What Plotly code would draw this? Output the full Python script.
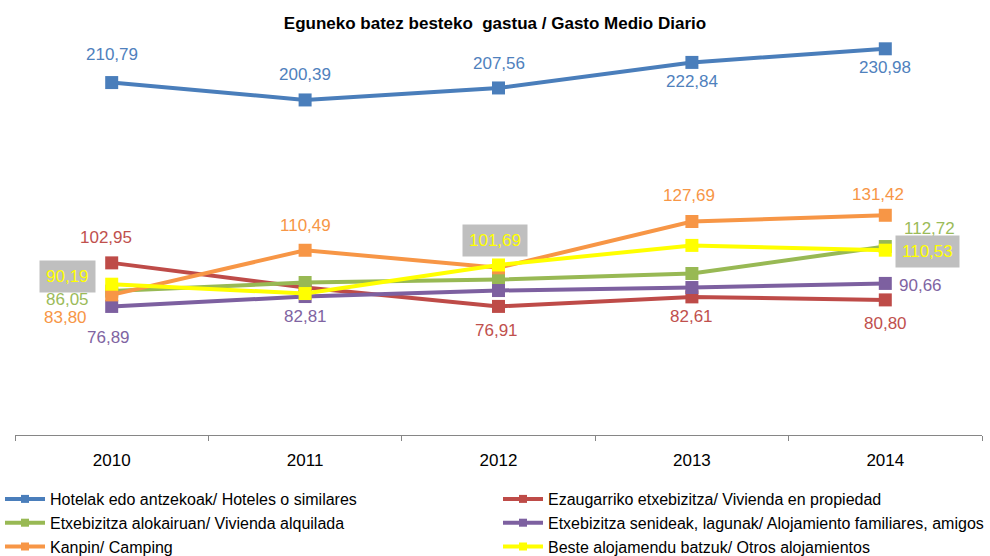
import plotly.graph_objects as go

years = ["2010", "2011", "2012", "2013", "2014"]

hoteles = [210.79, 200.39, 207.56, 222.84, 230.98]
propiedad = [102.95, 88.2, 76.91, 82.61, 80.80]
alquilada = [86.05, 91.2, 93.0, 96.6, 112.72]
familiares = [76.89, 82.81, 86.4, 88.2, 90.66]
camping = [83.80, 110.49, 100.0, 127.69, 131.42]
otros = [90.19, 84.6, 101.69, 113.4, 110.53]

names = [
    "Hotelak edo antzekoak/ Hoteles o similares",
    "Ezaugarriko etxebizitza/ Vivienda en propiedad",
    "Etxebizitza alokairuan/ Vivienda alquilada",
    "Etxebizitza senideak, lagunak/ Alojamiento familiares, amigos",
    "Kanpin/ Camping",
    "Beste alojamendu batzuk/ Otros alojamientos",
]
series = [hoteles, propiedad, alquilada, familiares, camping, otros]
line_colors = ["#4A7EBB", "#BE4B48", "#98B954", "#7D60A0", "#F79646", "#FFFF00"]
label_colors = ["#4F81BD", "#C0504D", "#9BBB59", "#8064A2", "#F79646", "#FFFF00"]
# left legend column / right legend column
legend_ids = ["legend", "legend2", "legend", "legend2", "legend", "legend2"]

# which points carry a value label, and where the label sits (dx, dy in px)
label_offsets = [
    {0: (0, 28), 1: (0, 25), 2: (0, 24), 3: (0, -19), 4: (0, -19)},
    {0: (-6, 25), 2: (-2, -24), 3: (0, -20), 4: (0, -24)},
    {0: (-44, -8), 4: (44, 18)},
    {0: (-3, -31), 1: (0, -20), 4: (35, -2)},
    {0: (-46, -23), 1: (0, 25), 3: (-3, 26), 4: (-7, 21)},
    {0: (-44, 8), 2: (-4, 24), 4: (42, -1)},
]

FONT = "Liberation Sans, Arial, sans-serif"

fig = go.Figure()
for name, vals, lc, lg in zip(names, series, line_colors, legend_ids):
    fig.add_trace(go.Scatter(
        x=years, y=vals, name=name, mode="lines+markers",
        line=dict(color=lc, width=4),
        marker=dict(symbol="square", size=13, color=lc),
        legendgroup=name, showlegend=False,
    ))
    # legend entry with a smaller key marker
    fig.add_trace(go.Scatter(
        x=[None], y=[None], name=name, mode="lines+markers",
        line=dict(color=lc, width=4),
        marker=dict(symbol="square", size=8, color=lc),
        legendgroup=name, legend=lg,
    ))

annotations = []
for vals, offs, tc, lc in zip(series, label_offsets, label_colors, line_colors):
    for i, (dx, dy) in offs.items():
        boxed = lc == "#FFFF00"
        annotations.append(dict(
            x=i, y=vals[i], xref="x", yref="y",
            text=f"{vals[i]:.2f}".replace(".", ","),
            showarrow=False, xshift=dx, yshift=dy,
            font=dict(family=FONT, size=17, color=tc),
            bgcolor="#BFBFBF" if boxed else None,
            borderpad=6 if boxed else 0,
        ))

legend_style = dict(orientation="v", xanchor="left", xref="container",
                    y=1 - 482 / 556, yanchor="top", yref="container",
                    traceorder="normal", bgcolor="rgba(0,0,0,0)",
                    font=dict(family=FONT, size=16, color="black"),
                    itemwidth=40, tracegroupgap=0)

fig.update_layout(
    width=990, height=556,
    margin=dict(l=15, r=8, t=17, b=121, autoexpand=False),
    paper_bgcolor="white", plot_bgcolor="white",
    font=dict(family=FONT, color="black"),
    title=dict(text="<b>Eguneko batez besteko  gastua / Gasto Medio Diario</b>",
               x=0.5, xanchor="center", y=1 - 23 / 556, yanchor="middle",
               font=dict(family=FONT, size=17, color="black")),
    xaxis=dict(type="category", range=[-0.5, 4.5], autorange=False,
               showgrid=False, showline=True,
               linecolor="#868686", linewidth=1, ticks="outside",
               tickson="boundaries", ticklen=5, tickcolor="#868686",
               tickangle=0, ticklabelstandoff=10,
               tickfont=dict(family=FONT, size=17, color="black")),
    yaxis=dict(range=[0, 250], autorange=False, visible=False,
               showgrid=False, zeroline=False),
    showlegend=True,
    legend=dict(x=0.0, **legend_style),
    legend2=dict(x=498 / 990, **legend_style),
    annotations=annotations,
)

fig.write_html("out.html")
